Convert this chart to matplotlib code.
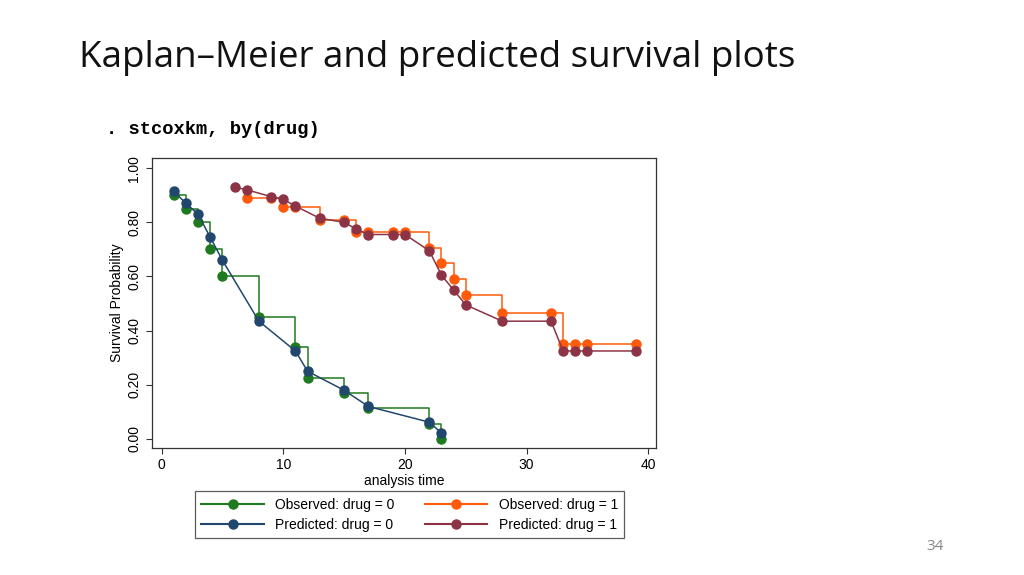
import matplotlib
matplotlib.use("Agg")
import matplotlib.pyplot as plt
from matplotlib.lines import Line2D

obs0_t = [1, 2, 3, 4, 5, 8, 11, 12, 15, 17, 22, 23]
obs0_s = [0.90, 0.85, 0.80, 0.70, 0.60, 0.45, 0.34, 0.225, 0.17, 0.115, 0.057, 0.0]
pred0_t = [1, 2, 3, 4, 5, 8, 11, 12, 15, 17, 22, 23]
pred0_s = [0.915, 0.87, 0.83, 0.745, 0.66, 0.435, 0.325, 0.25, 0.18, 0.12, 0.062, 0.022]
obs1_t = [7, 9, 10, 11, 13, 15, 16, 17, 19, 20, 22, 23, 24, 25, 28, 32, 33, 34, 35, 39]
obs1_s = [0.89, 0.89, 0.855, 0.855, 0.81, 0.81, 0.765, 0.765, 0.765, 0.765, 0.705, 0.65,
          0.59, 0.53, 0.465, 0.465, 0.35, 0.35, 0.35, 0.35]
pred1_t = [6, 7, 9, 10, 11, 13, 15, 16, 17, 19, 20, 22, 23, 24, 25, 28, 32, 33, 34, 35, 39]
pred1_s = [0.93, 0.92, 0.895, 0.885, 0.86, 0.815, 0.80, 0.775, 0.755, 0.755, 0.755, 0.695,
           0.605, 0.55, 0.495, 0.435, 0.435, 0.325, 0.325, 0.325, 0.325]
yticks = [0.0, 0.2, 0.4, 0.6, 0.8, 1.0]
xticks = [0, 10, 20, 30, 40]

green, blue, orange, maroon = "#1f7a1f", "#22476e", "#ff5a0a", "#8c3446"
plt.rcParams['font.family'] = ['Liberation Sans', 'DejaVu Sans']

fig = plt.figure(figsize=(10.24, 5.75), dpi=100)
fig.text(0.077, 0.90, "Kaplan–Meier and predicted survival plots", fontsize=26.5,
         family="Open Sans", va="center", color="#111111")
fig.text(0.104, 0.774, ". stcoxkm, by(drug)", fontsize=13.5, family="Liberation Mono",
         weight="bold", va="center")
fig.text(0.905, 0.043, "34", fontsize=11, color="#888888", family="Open Sans")

ax = fig.add_axes([0.148, 0.221, 0.493, 0.504])
ms = 6.5
ax.step(obs0_t, obs0_s, where="post", color=green, lw=1.1)
ax.plot(obs0_t, obs0_s, "o", color=green, ms=ms)
ax.plot(pred0_t, pred0_s, "-o", color=blue, lw=1.1, ms=ms)
ax.step(obs1_t, obs1_s, where="post", color=orange, lw=1.1)
ax.plot(obs1_t, obs1_s, "o", color=orange, ms=ms)
ax.plot(pred1_t, pred1_s, "-o", color=maroon, lw=1.1, ms=ms)

ax.set_xlim(-0.82, 40.66)
ax.set_ylim(-0.033, 1.037)
ax.set_xticks(xticks)
ax.set_yticks(yticks)
ax.set_yticklabels([f"{v:.2f}" for v in yticks], rotation=90, va="center")
ax.tick_params(labelsize=10, length=4, color="#333333")
ax.set_xlabel("analysis time", fontsize=10, labelpad=1)
ax.set_ylabel("Survival Probability", fontsize=10, labelpad=2)
for s in ax.spines.values():
    s.set_color("#333333")
    s.set_linewidth(0.9)

handles = [Line2D([], [], color=green, marker="o", ms=ms),
           Line2D([], [], color=blue, marker="o", ms=ms),
           Line2D([], [], color=orange, marker="o", ms=ms),
           Line2D([], [], color=maroon, marker="o", ms=ms)]
labels = ["Observed: drug = 0", "Predicted: drug = 0",
          "Observed: drug = 1", "Predicted: drug = 1"]
leg = fig.legend(handles, labels, ncol=2, loc="center",
                 bbox_to_anchor=(0.395, 0.1, 0.01, 0.01), fontsize=10,
                 frameon=True, fancybox=False, edgecolor="#333333",
                 borderpad=0.45, handlelength=4.5, columnspacing=2.2,
                 labelspacing=0.45, handletextpad=0.8)
leg.get_frame().set_linewidth(0.9)

fig.savefig("out.png", dpi=100)
